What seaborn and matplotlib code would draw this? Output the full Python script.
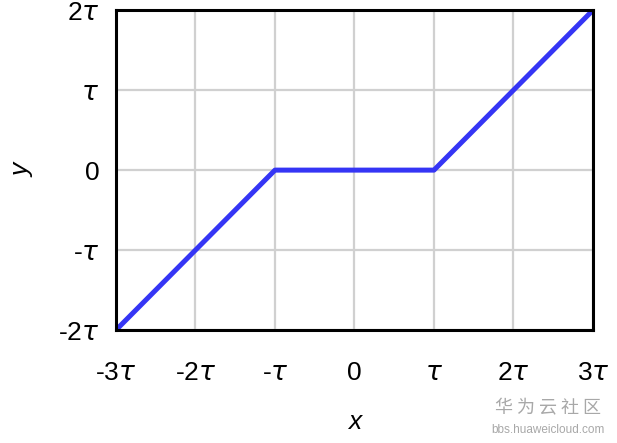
import matplotlib
matplotlib.use("Agg")
import matplotlib.pyplot as plt
import seaborn as sns
import numpy as np
import pandas as pd

# dead-zone curve, in units of tau
x_knots = [-3, -1, 1, 3]
y_knots = [-2, 0, 0, 2]
x_ticks = [-3, -2, -1, 0, 1, 2, 3]
x_labels = ["-3$\\tau$", "-2$\\tau$", "-$\\tau$", "0", "$\\tau$", "2$\\tau$", "3$\\tau$"]
y_ticks = [-2, -1, 0, 1, 2]
y_labels = ["-2$\\tau$", "-$\\tau$", "0", "$\\tau$", "2$\\tau$"]

sns.set_style("white")
plt.rcParams['font.family'] = ['Liberation Sans', 'Noto Sans CJK SC', 'DejaVu Sans']
plt.rcParams['mathtext.fontset'] = 'dejavusans'
plt.rcParams['text.color'] = 'black'
plt.rcParams['xtick.color'] = 'black'
plt.rcParams['ytick.color'] = 'black'
plt.rcParams['axes.labelcolor'] = 'black'

df = pd.DataFrame({"x": x_knots, "y": y_knots})

fig = plt.figure(figsize=(6.17, 4.43), dpi=100)
ax = fig.add_axes([0.188, 0.255, 0.773, 0.722])
sns.lineplot(data=df, x="x", y="y", ax=ax, color="#3535f5", linewidth=3.6, sort=False)

ax.set_xlim(-3, 3)
ax.set_ylim(-2, 2)
ax.set_xticks(x_ticks)
ax.set_xticklabels(x_labels)
ax.set_yticks(y_ticks)
ax.set_yticklabels(y_labels)
ax.grid(True, color="#d0d0d0", linewidth=1.6)
ax.tick_params(direction="in", length=4, width=2, labelsize=19, color="black")
ax.tick_params(axis="x", pad=22)
ax.tick_params(axis="y", pad=12)
for s in ax.spines.values():
    s.set_linewidth(2.2)
    s.set_color("black")

ax.set_xlabel("x", fontsize=19, style="italic", labelpad=18)
ax.set_ylabel("y", fontsize=19, style="italic", labelpad=17)

fig.text(0.888, 0.068, "华 为 云 社 区", color="#a8a8a8", fontsize=13, ha="center",
         family=['Noto Sans CJK SC', 'DejaVu Sans'])
fig.text(0.888, 0.022, "bbs.huaweicloud.com", color="#a8a8a8", fontsize=8.5, ha="center")

fig.savefig("out.png", dpi=100)
